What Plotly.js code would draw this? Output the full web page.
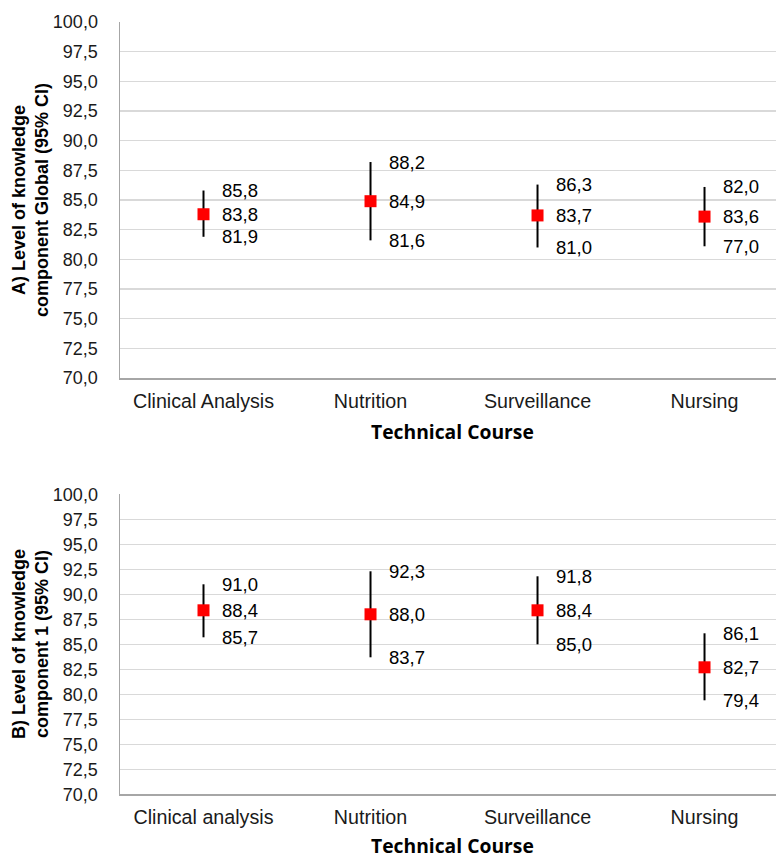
<!DOCTYPE html>
<html>
<head>
<meta charset="utf-8">
<script src="https://cdn.plot.ly/plotly-3.0.1.min.js"></script>
<style>html,body{margin:0;padding:0;background:#fff;}#chart{width:776px;height:859px;}</style>
</head>
<body>
<div id="chart"></div>
<script>
// Panel A
const categoriesA = ["Clinical Analysis", "Nutrition", "Surveillance", "Nursing"];
const meanA = [83.8, 84.9, 83.7, 83.6];
const ciHighA = [85.8, 88.2, 86.3, 86.1];
const ciLowA = [81.9, 81.6, 81.0, 81.1];
const labelHighA = ["85,8", "88,2", "86,3", "82,0"];
const labelMeanA = ["83,8", "84,9", "83,7", "83,6"];
const labelLowA = ["81,9", "81,6", "81,0", "77,0"];

// Panel B
const categoriesB = ["Clinical analysis", "Nutrition", "Surveillance", "Nursing"];
const meanB = [88.4, 88.0, 88.4, 82.7];
const ciHighB = [91.0, 92.3, 91.8, 86.1];
const ciLowB = [85.7, 83.7, 85.0, 79.4];
const labelHighB = ["91,0", "92,3", "91,8", "86,1"];
const labelMeanB = ["88,4", "88,0", "88,4", "82,7"];
const labelLowB = ["85,7", "83,7", "85,0", "79,4"];

const yTickVals = [70, 72.5, 75, 77.5, 80, 82.5, 85, 87.5, 90, 92.5, 95, 97.5, 100];
const yTickText = ["70,0", "72,5", "75,0", "77,5", "80,0", "82,5", "85,0", "87,5", "90,0", "92,5", "95,0", "97,5", "100,0"];

function xTickFont() { return {family: "Liberation Sans", size: 19.7, color: "#1a1a1a"}; }
function yTickFont() { return {family: "Liberation Sans", size: 18, color: "#1a1a1a"}; }
function labelFont() { return {family: "Liberation Sans", size: 18.5, color: "#000000"}; }

function makeTrace(cats, mean, hi, lo, xa, ya) {
  return {
    type: "scatter", mode: "markers",
    x: cats.map((c, i) => i), y: mean, xaxis: xa, yaxis: ya,
    marker: {symbol: "square", size: 12, color: "#ff0000"},
    error_y: {type: "data", symmetric: false,
      array: hi.map((h, i) => h - mean[i]),
      arrayminus: lo.map((l, i) => mean[i] - l),
      color: "#000000", thickness: 2, width: 0},
    hoverinfo: "skip", showlegend: false, cliponaxis: false
  };
}

const annotations = [];
function addLabels(cats, mean, hi, lo, lh, lm, ll, xr, yr) {
  cats.forEach((c, i) => {
    [[hi[i], lh[i]], [mean[i], lm[i]], [lo[i], ll[i]]].forEach(p => {
      annotations.push({x: i, y: p[0], xref: xr, yref: yr, text: p[1], showarrow: false,
        xanchor: "left", yanchor: "middle", xshift: 16, font: labelFont()});
    });
  });
}
addLabels(categoriesA, meanA, ciHighA, ciLowA, labelHighA, labelMeanA, labelLowA, "x", "y");
addLabels(categoriesB, meanB, ciHighB, ciLowB, labelHighB, labelMeanB, labelLowB, "x2", "y2");

function titleFontX() { return {family: "Open Sans", size: 19.3, color: "#000000"}; }
function titleFontY() { return {family: "Liberation Sans", size: 18, color: "#000000"}; }
annotations.push({xref: "paper", yref: "paper", x: (453 - 120) / 656, y: 1 - 431 / 859, text: "<b>Technical Course</b>",
  showarrow: false, xanchor: "center", yanchor: "middle", font: titleFontX()});
annotations.push({xref: "paper", yref: "paper", x: (453 - 120) / 656, y: 1 - 845 / 859, text: "<b>Technical Course</b>",
  showarrow: false, xanchor: "center", yanchor: "middle", font: titleFontX()});
annotations.push({xref: "paper", yref: "paper", x: -90 / 656, y: 1 - 200 / 859,
  text: "<b>A) Level of knowledge<br>component Global (95% CI)</b>", textangle: -90,
  showarrow: false, xanchor: "center", yanchor: "middle", font: titleFontY()});
annotations.push({xref: "paper", yref: "paper", x: -90 / 656, y: 1 - 644 / 859,
  text: "<b>B) Level of knowledge<br>component 1 (95% CI)</b>", textangle: -90,
  showarrow: false, xanchor: "center", yanchor: "middle", font: titleFontY()});

function xAxis(cats, anchor) {
  return {domain: [0, 1], anchor: anchor, range: [-0.5, 3.428], tickvals: cats.map((c, i) => i), ticktext: cats,
    showgrid: false, zeroline: false, showline: true, linecolor: "#a6a6a6", linewidth: 1.5,
    ticks: "outside", ticklen: 5, tickcolor: "rgba(0,0,0,0)", tickfont: xTickFont(), fixedrange: true};
}
function yAxis(anchor, dom) {
  return {domain: dom, anchor: anchor, range: [70, 100], tickvals: yTickVals, ticktext: yTickText,
    showgrid: true, gridcolor: "#d9d9d9", gridwidth: 1.5, zeroline: false, showline: true,
    linecolor: "#a6a6a6", linewidth: 1.5, ticks: "outside", ticklen: 17, tickcolor: "rgba(0,0,0,0)",
    tickfont: yTickFont(), fixedrange: true};
}

const layout = {
  width: 776, height: 859,
  margin: {l: 120, r: 0, t: 0, b: 0},
  paper_bgcolor: "#ffffff", plot_bgcolor: "#ffffff",
  xaxis: xAxis(categoriesA, "y"),
  yaxis: yAxis("x", [1 - 378 / 859, 1 - 22 / 859]),
  xaxis2: xAxis(categoriesB, "y2"),
  yaxis2: yAxis("x2", [1 - 794.3 / 859, 1 - 494.3 / 859]),
  annotations: annotations,
  showlegend: false
};

Plotly.newPlot("chart", [
  makeTrace(categoriesA, meanA, ciHighA, ciLowA, "x", "y"),
  makeTrace(categoriesB, meanB, ciHighB, ciLowB, "x2", "y2")
], layout, {displayModeBar: false, staticPlot: true});
</script>
</body>
</html>
